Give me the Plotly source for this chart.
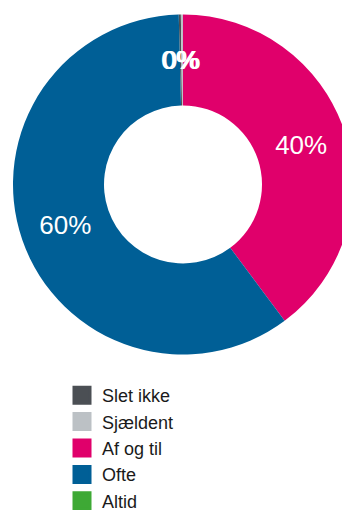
import math
import plotly.graph_objects as go

# Survey answer distribution
categories = ["Slet ikke", "Sjældent", "Af og til", "Ofte", "Altid"]
values = [0.2, 0.2, 39.8, 59.8, 0.0]
colors = ["#4b4f54", "#bcc1c5", "#e0006b", "#005f96", "#3ea935"]

W, H = 366, 510          # figure size; the page itself is clipped to 342 px
cx, cy, r = 183, 184.5, 170   # donut centre and outer radius in pixels
hole = 79 / 170
FONT = "Liberation Sans, Arial, Helvetica, sans-serif"

total = sum(values)
# Start the first slice so that "Af og til" begins at 12 o'clock
lead = sum(values[:2]) / total * 360
small = [v / total < 0.05 for v in values]

fig = go.Figure()
fig.add_trace(go.Pie(
    labels=categories,
    values=values,
    marker=dict(colors=colors),
    hole=hole,
    sort=False,
    direction="clockwise",
    rotation=-lead,
    texttemplate=["" if s else "%{percent:.0%}" for s in small],
    textposition="inside",
    insidetextorientation="horizontal",
    textfont=dict(color="white", size=26, family=FONT),
    showlegend=False,
    domain=dict(x=[(cx - r) / W, (cx + r) / W],
                y=[(H - cy - r) / H, (H - cy + r) / H]),
))

# Thin slices: put their percentage in the middle of the ring, unscaled
r_mid = r * (1 + hole) / 2
cum = 0.0
for v, s in zip(values, small):
    mid = math.radians(-lead + (cum + v / 2) / total * 360)
    cum += v
    if not s:
        continue
    px = cx + r_mid * math.sin(mid)
    py = cy - r_mid * math.cos(mid)
    fig.add_annotation(
        x=px / W, y=1 - py / H, xref="paper", yref="paper",
        xanchor="center", yanchor="middle", showarrow=False,
        text=f"{v / total:.0%}",
        font=dict(color="white", size=26, family=FONT),
    )

# Legend entries with larger square swatches
for name, col in zip(categories, colors):
    fig.add_trace(go.Scatter(
        x=[None], y=[None], mode="markers", name=name,
        marker=dict(symbol="square", size=16, color=col,
                    line=dict(color=col, width=3)),
    ))

fig.update_layout(
    width=W, height=H,
    margin=dict(l=0, r=0, t=0, b=0, autoexpand=False),
    paper_bgcolor="white", plot_bgcolor="white",
    font=dict(family=FONT, color="#1a1a1a"),
    xaxis=dict(visible=False), yaxis=dict(visible=False),
    legend=dict(x=62 / W, xanchor="left", y=(H - 377) / H, yanchor="top",
                font=dict(size=18, color="#1a1a1a"),
                bgcolor="rgba(0,0,0,0)"),
    showlegend=True,
)

clip = (
    "document.documentElement.style.overflow='hidden';"
    "document.body.style.margin='0';"
    "var gd=document.getElementById('{plot_id}');"
    "gd.parentElement.style.width='342px';"
    "gd.parentElement.style.height='510px';"
    "gd.parentElement.style.overflow='hidden';"
)
fig.write_html("out.html", config={"displayModeBar": False}, post_script=clip)
